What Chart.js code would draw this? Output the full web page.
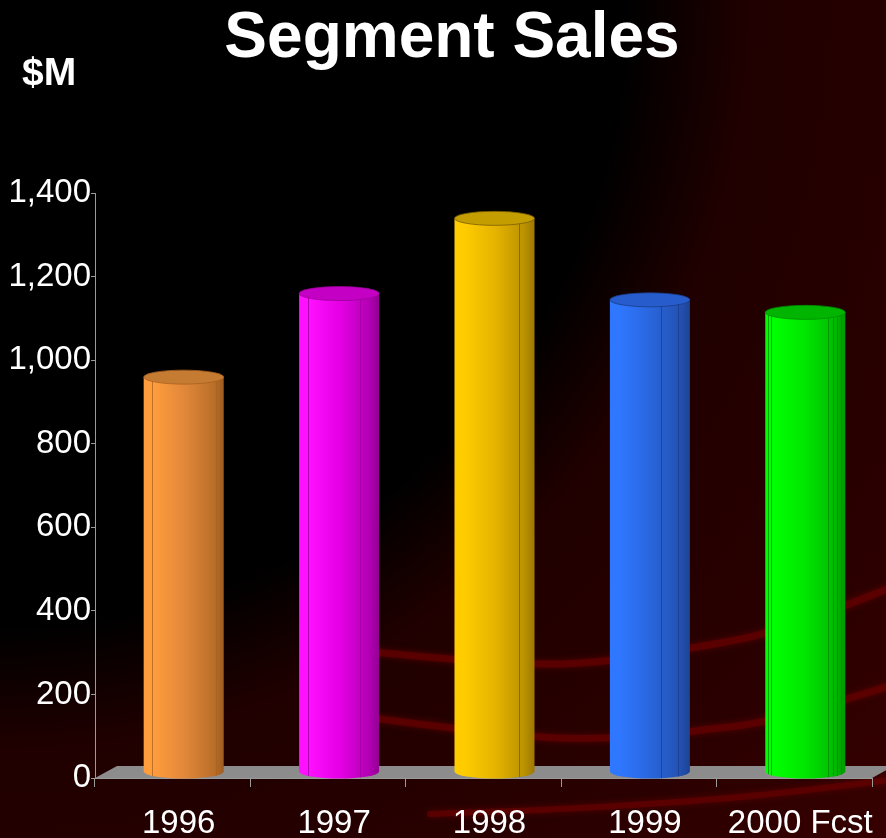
<!DOCTYPE html>
<html>
<head>
<meta charset="utf-8">
<title>Segment Sales</title>
<script src="https://cdn.jsdelivr.net/npm/chart.js@4.4.1/dist/chart.umd.min.js"></script>
<style>
  html, body { margin: 0; padding: 0; background: #000; }
  #wrap { width: 886px; height: 838px; }
</style>
</head>
<body>
<div id="wrap"><canvas id="chart" width="886" height="838"></canvas></div>
<script>
// Segment sales, $M
const years = ['1996', '1997', '1998', '1999', '2000 Fcst'];
const salesM = [945, 1145, 1325, 1130, 1100];
const yTickValues = [0, 200, 400, 600, 800, 1000, 1200, 1400];

// cylinder shading per year
const barShades = [
  { light: '#ff9d3d', mid: '#e2883a', dark: '#bb6f2a', edge: '#9f5c20', top: '#c57b32', seam: '#a8611f', seams: [0.11, 0.9] },
  { light: '#ff10ff', mid: '#e600e6', dark: '#b400b4', edge: '#930093', top: '#c400c4', seam: '#9a009a', seams: [0.11, 0.76] },
  { light: '#ffcc00', mid: '#e6b400', dark: '#bb9200', edge: '#9c7800', top: '#c49e00', seam: '#7a5c00', seams: [0.81] },
  { light: '#2f77ff', mid: '#2966de', dark: '#2452b4', edge: '#1d4394', top: '#265ccc', seam: '#1a3c88', seams: [0.64, 0.85] },
  { light: '#00ff00', mid: '#00e600', dark: '#00ba00', edge: '#009a00', top: '#00b400', seam: '#008c00', seams: [0.04, 0.07, 0.78, 0.84, 0.9, 0.95] }
];

const FONT = '"Liberation Sans", Arial, Helvetica, sans-serif';
const BAR_FRACTION = 0.515;   // share of each category slot
const DEPTH_X = 22, DEPTH_Y = -12; // floor depth
const CAP_RY = 7;             // ellipse half-height of cylinder ends
const AXIS_GREY = '#9a9a9a';

Chart.defaults.font.family = FONT;

function barFill(ctx, x, w, s) {
  const g = ctx.createLinearGradient(x - w / 2, 0, x + w / 2, 0);
  g.addColorStop(0, s.light);
  g.addColorStop(0.12, s.light);
  g.addColorStop(0.5, s.mid);
  g.addColorStop(0.87, s.dark);
  g.addColorStop(1, s.edge);
  return g;
}

function smoothCurve(ctx, pts) {
  ctx.beginPath();
  ctx.moveTo(pts[0][0], pts[0][1]);
  for (let i = 0; i < pts.length - 1; i++) {
    const p0 = pts[Math.max(0, i - 1)], p1 = pts[i], p2 = pts[i + 1], p3 = pts[Math.min(pts.length - 1, i + 2)];
    ctx.bezierCurveTo(
      p1[0] + (p2[0] - p0[0]) / 6, p1[1] + (p2[1] - p0[1]) / 6,
      p2[0] - (p3[0] - p1[0]) / 6, p2[1] - (p3[1] - p1[1]) / 6,
      p2[0], p2[1]);
  }
  ctx.stroke();
}

// dark backdrop with a red swirl toward the lower right
const backdrop = {
  id: 'backdrop',
  beforeDraw(chart) {
    const { ctx, width, height } = chart;
    ctx.save();
    ctx.fillStyle = '#000';
    ctx.fillRect(0, 0, width, height);
    const rg = ctx.createRadialGradient(0, 0, 0, 0, 0, 1250);
    rg.addColorStop(0, 'rgba(0,0,0,1)');
    rg.addColorStop(0.5, 'rgba(0,0,0,1)');
    rg.addColorStop(0.6, 'rgba(32,0,0,1)');
    rg.addColorStop(0.8, 'rgba(42,0,0,1)');
    rg.addColorStop(1, 'rgba(56,0,0,1)');
    ctx.fillStyle = rg;
    ctx.fillRect(0, 0, width, height);
    ctx.strokeStyle = 'rgba(100,0,0,0.7)';
    ctx.lineCap = 'round';
    ctx.shadowColor = 'rgba(110,0,0,0.9)';
    ctx.shadowBlur = 6;
    ctx.lineWidth = 7;
    smoothCurve(ctx, [[370, 652], [560, 664], [720, 643], [800, 622], [890, 588]]);
    smoothCurve(ctx, [[340, 714], [560, 738], [720, 728], [800, 712], [890, 686]]);
    ctx.lineWidth = 6;
    smoothCurve(ctx, [[430, 814], [580, 808], [740, 797], [890, 780]]);
    ctx.restore();
  }
};

// grey floor under the cylinders
const floor = {
  id: 'floor',
  beforeDatasetsDraw(chart) {
    const { ctx, scales } = chart;
    const y0 = scales.y.getPixelForValue(0);
    const l = scales.x.left, r = scales.x.right;
    ctx.save();
    ctx.fillStyle = '#8c8c8c';
    ctx.beginPath();
    ctx.moveTo(l, y0);
    ctx.lineTo(r, y0);
    ctx.lineTo(r + DEPTH_X, y0 + DEPTH_Y);
    ctx.lineTo(l + DEPTH_X, y0 + DEPTH_Y);
    ctx.closePath();
    ctx.fill();
    ctx.restore();
  }
};

// bars sit mid-depth on the floor and get round ends
const cylinders = {
  id: 'cylinders',
  beforeDatasetDraw(chart, args) {
    const ctx = chart.ctx;
    ctx.save();
    ctx.translate(DEPTH_X / 2, DEPTH_Y / 2);
    args.meta.data.forEach((bar, i) => {
      const { x, base, width } = bar.getProps(['x', 'base', 'width'], true);
      const s = barShades[i % barShades.length];
      ctx.fillStyle = barFill(ctx, x, width, s);
      ctx.beginPath();
      ctx.ellipse(x, base, width / 2, CAP_RY, 0, 0, Math.PI * 2);
      ctx.fill();
    });
  },
  afterDatasetDraw(chart, args) {
    const ctx = chart.ctx;
    args.meta.data.forEach((bar, i) => {
      const { x, y, base, width } = bar.getProps(['x', 'y', 'base', 'width'], true);
      const s = barShades[i % barShades.length];
      ctx.save();
      ctx.strokeStyle = s.seam;
      ctx.globalAlpha = 0.75;
      ctx.lineWidth = 1;
      s.seams.forEach(f => {
        const sx = Math.round(x - width / 2 + f * width) + 0.5;
        const drop = CAP_RY * Math.sqrt(Math.max(0, 1 - Math.pow(2 * f - 1, 2)));
        ctx.beginPath();
        ctx.moveTo(sx, y + drop);
        ctx.lineTo(sx, base + drop);
        ctx.stroke();
      });
      ctx.restore();
      ctx.fillStyle = s.top;
      ctx.beginPath();
      ctx.ellipse(x, y, width / 2, CAP_RY, 0, 0, Math.PI * 2);
      ctx.fill();
      ctx.strokeStyle = s.seam;
      ctx.lineWidth = 0.8;
      ctx.stroke();
    });
    ctx.restore();
  }
};

// heading and unit caption
const headings = {
  id: 'headings',
  afterDraw(chart) {
    const ctx = chart.ctx;
    ctx.save();
    ctx.fillStyle = '#fff';
    ctx.textBaseline = 'alphabetic';
    ctx.font = 'bold 64px ' + FONT;
    ctx.textAlign = 'center';
    ctx.fillText('Segment Sales', 452, 57);
    ctx.font = 'bold 39px ' + FONT;
    ctx.textAlign = 'left';
    ctx.fillText('$M', 22, 85);
    ctx.restore();
  }
};

new Chart(document.getElementById('chart'), {
  type: 'bar',
  data: {
    labels: years,
    datasets: [{
      label: 'Sales ($M)',
      data: salesM,
      clip: false,
      borderWidth: 0,
      barPercentage: BAR_FRACTION,
      categoryPercentage: 1,
      backgroundColor: (c) => {
        const s = barShades[c.dataIndex % barShades.length];
        const chart = c.chart;
        if (!chart.chartArea || !chart.scales.x) return s.mid;
        const xs = chart.scales.x;
        const x = xs.getPixelForValue(c.dataIndex);
        const w = (xs.width / years.length) * BAR_FRACTION;
        return barFill(chart.ctx, x, w, s);
      }
    }]
  },
  options: {
    responsive: false,
    animation: false,
    layout: { padding: { top: 193, right: 14, bottom: 0, left: 0 } },
    plugins: {
      legend: { display: false },
      tooltip: { enabled: false },
      title: { display: false }
    },
    scales: {
      x: {
        grid: { offset: true, drawOnChartArea: false, tickLength: 9, color: AXIS_GREY },
        border: { color: AXIS_GREY },
        ticks: { color: '#fff', font: { size: 33 }, padding: 17, labelOffset: 6, maxRotation: 0, autoSkip: false },
        afterFit(s) { s.height = 60; }
      },
      y: {
        min: 0,
        max: 1400,
        afterBuildTicks(s) { s.ticks = yTickValues.map(v => ({ value: v })); },
        grid: { drawOnChartArea: false, tickLength: 4, color: AXIS_GREY },
        border: { color: AXIS_GREY },
        ticks: { color: '#fff', font: { size: 33 }, padding: 0, callback: v => Number(v).toLocaleString('en-US') },
        afterFit(s) { s.width = 95; }
      }
    }
  },
  plugins: [backdrop, floor, cylinders, headings]
});
</script>
</body>
</html>
